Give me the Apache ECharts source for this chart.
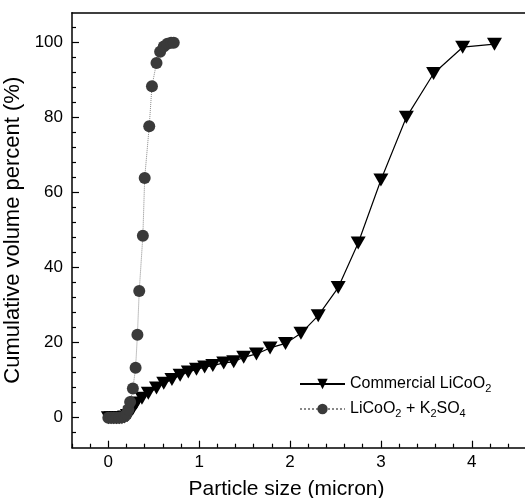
<!DOCTYPE html>
<html lang="en">

<head>
    <meta charset="UTF-8">
    <title>Particle size distribution</title>
    <script src="https://cdn.jsdelivr.net/npm/echarts@6.0.0/dist/echarts.min.js"></script>
    <style>
        body { margin: 0; background: #fff; }
    </style>
</head>

<body>
    <div id="main" style="width: 525px;height:498px;"></div>
    <script type="text/javascript">
        // tick labels
        const xTicks = [0, 1, 2, 3, 4];
        const yTicks = [0, 20, 40, 60, 80, 100];

        // Commercial LiCoO2 : particle size (micron), cumulative volume (%)
        const commercialSize = [0.00, 0.03, 0.06, 0.09, 0.12, 0.15, 0.18, 0.21, 0.24, 0.27,
            0.31, 0.37, 0.44, 0.53, 0.61, 0.70, 0.79, 0.88, 0.97, 1.06,
            1.15, 1.27, 1.38, 1.49, 1.63, 1.78, 1.95, 2.12, 2.31, 2.53,
            2.75, 3.00, 3.28, 3.58, 3.90, 4.25];
        const commercialVol = [0, 0, 0, 0, 0, 0, 0.2, 0.6, 1.3, 2.4,
            3.9, 5.2, 6.5, 7.9, 9.2, 10.2, 11.3, 12.2, 12.9, 13.5,
            13.9, 14.6, 14.9, 16.1, 17.0, 18.6, 19.8, 22.5, 27.2, 34.7,
            46.6, 63.4, 80.1, 91.8, 98.8, 99.6];

        // LiCoO2 + K2SO4
        const ksoSize = [0.00, 0.03, 0.06, 0.09, 0.12, 0.15, 0.18, 0.20, 0.22, 0.24,
            0.27, 0.30, 0.32, 0.34, 0.38, 0.40, 0.45, 0.48, 0.53, 0.57,
            0.61, 0.65, 0.69, 0.72];
        const ksoVol = [0, 0, 0, 0, 0, 0.1, 0.4, 1.0, 2.2, 4.2,
            7.8, 13.3, 22.1, 33.8, 48.5, 63.9, 77.7, 88.4, 94.6, 97.6,
            99.0, 99.7, 100, 100];

        const pair = (xs, ys) => xs.map((x, i) => [x, ys[i]]);

        // minor tick positions (every 0.2 on x, every 4 on y)
        const xMinor = [];
        for (let v = -2; v <= 23; v++) if (v % 5 !== 0) xMinor.push(v / 5);
        const yMinor = [];
        for (let v = -1; v <= 26; v++) if (v % 5 !== 0) yMinor.push(v * 4);

        const font = 'Liberation Sans';
        const blank = () => '';
        const X_MIN = -0.4, X_MAX = 4.586, Y_MIN = -8, Y_MAX = 108;

        // legend text with subscripts
        function subFmt(name) {
            return name.replace(/(\d)/g, '{s|$1}');
        }

        // two grids at the same place: one for data + major ticks, one for minor ticks + top frame line
        const gridBox = { left: 72, right: 0, top: 12.7, bottom: 50.3, outerBoundsMode: 'none', containLabel: false };

        let options = {
            backgroundColor: '#fff',
            textStyle: { fontFamily: font },
            grid: [Object.assign({}, gridBox), Object.assign({}, gridBox)],
            xAxis: [{
                gridIndex: 0, type: 'value', min: X_MIN, max: X_MAX,
                name: 'Particle size (micron)', nameLocation: 'middle', nameGap: 31,
                nameTextStyle: { fontSize: 21, color: '#000', fontFamily: font, padding: [0, 24, 0, 0] },
                axisLine: { onZero: false, lineStyle: { color: '#000', width: 1.5 } },
                axisTick: { inside: true, length: 7, customValues: xTicks, lineStyle: { color: '#000', width: 1.2 } },
                axisLabel: { customValues: xTicks, fontSize: 17, color: '#000', margin: 6, fontFamily: font },
                splitLine: { show: false }
            }, {
                gridIndex: 1, type: 'value', min: X_MIN, max: X_MAX, position: 'bottom',
                axisLine: { show: false, onZero: false },
                axisTick: { show: true, inside: true, length: 4, customValues: xMinor, lineStyle: { color: '#000', width: 1.2 } },
                axisLabel: { show: true, customValues: xMinor, formatter: blank },
                splitLine: { show: false }
            }, {
                gridIndex: 1, type: 'value', min: X_MIN, max: X_MAX, position: 'top',
                axisLine: { show: true, onZero: false, lineStyle: { color: '#000', width: 1.5 } },
                axisTick: { show: false },
                axisLabel: { show: false },
                splitLine: { show: false }
            }],
            yAxis: [{
                gridIndex: 0, type: 'value', min: Y_MIN, max: Y_MAX,
                name: 'Cumulative volume percent (%)', nameLocation: 'middle', nameGap: 35,
                nameTextStyle: { fontSize: 22, color: '#000', fontFamily: font },
                axisLine: { show: true, onZero: false, lineStyle: { color: '#000', width: 1.5 } },
                axisTick: { show: true, inside: true, length: 7, customValues: yTicks, lineStyle: { color: '#000', width: 1.2 } },
                axisLabel: { customValues: yTicks, fontSize: 17, color: '#000', margin: 9, fontFamily: font },
                splitLine: { show: false }
            }, {
                gridIndex: 1, type: 'value', min: Y_MIN, max: Y_MAX, position: 'left',
                axisLine: { show: false, onZero: false },
                axisTick: { show: true, inside: true, length: 4, customValues: yMinor, lineStyle: { color: '#000', width: 1.2 } },
                axisLabel: { show: true, customValues: yMinor, formatter: blank },
                splitLine: { show: false }
            }],
            legend: {
                orient: 'vertical', left: 294, top: 369,
                itemWidth: 45, itemHeight: 13, itemGap: 5,
                formatter: subFmt,
                textStyle: {
                    fontSize: 16, color: '#000', fontFamily: font, lineHeight: 20,
                    rich: {
                        s: { fontSize: 11, lineHeight: 10, verticalAlign: 'bottom', color: '#000', fontFamily: font }
                    }
                },
                data: ['Commercial LiCoO2', 'LiCoO2 + K2SO4']
            },
            series: [{
                name: 'Commercial LiCoO2',
                type: 'line',
                xAxisIndex: 0, yAxisIndex: 0,
                data: pair(commercialSize, commercialVol),
                symbol: 'triangle', symbolRotate: 180, symbolSize: [15, 13],
                itemStyle: { color: '#000' },
                lineStyle: { color: '#000', width: 1.2 },
                animation: false
            }, {
                name: 'LiCoO2 + K2SO4',
                type: 'line',
                xAxisIndex: 0, yAxisIndex: 0,
                data: pair(ksoSize, ksoVol),
                symbol: 'circle', symbolSize: 12,
                itemStyle: { color: '#3a3a3a' },
                lineStyle: { color: '#888', width: 1, type: 'dotted' },
                animation: false
            }]
        };

        let myChart = echarts.init(document.getElementById('main'));
        myChart.setOption(options);
    </script>
</body>

</html>
